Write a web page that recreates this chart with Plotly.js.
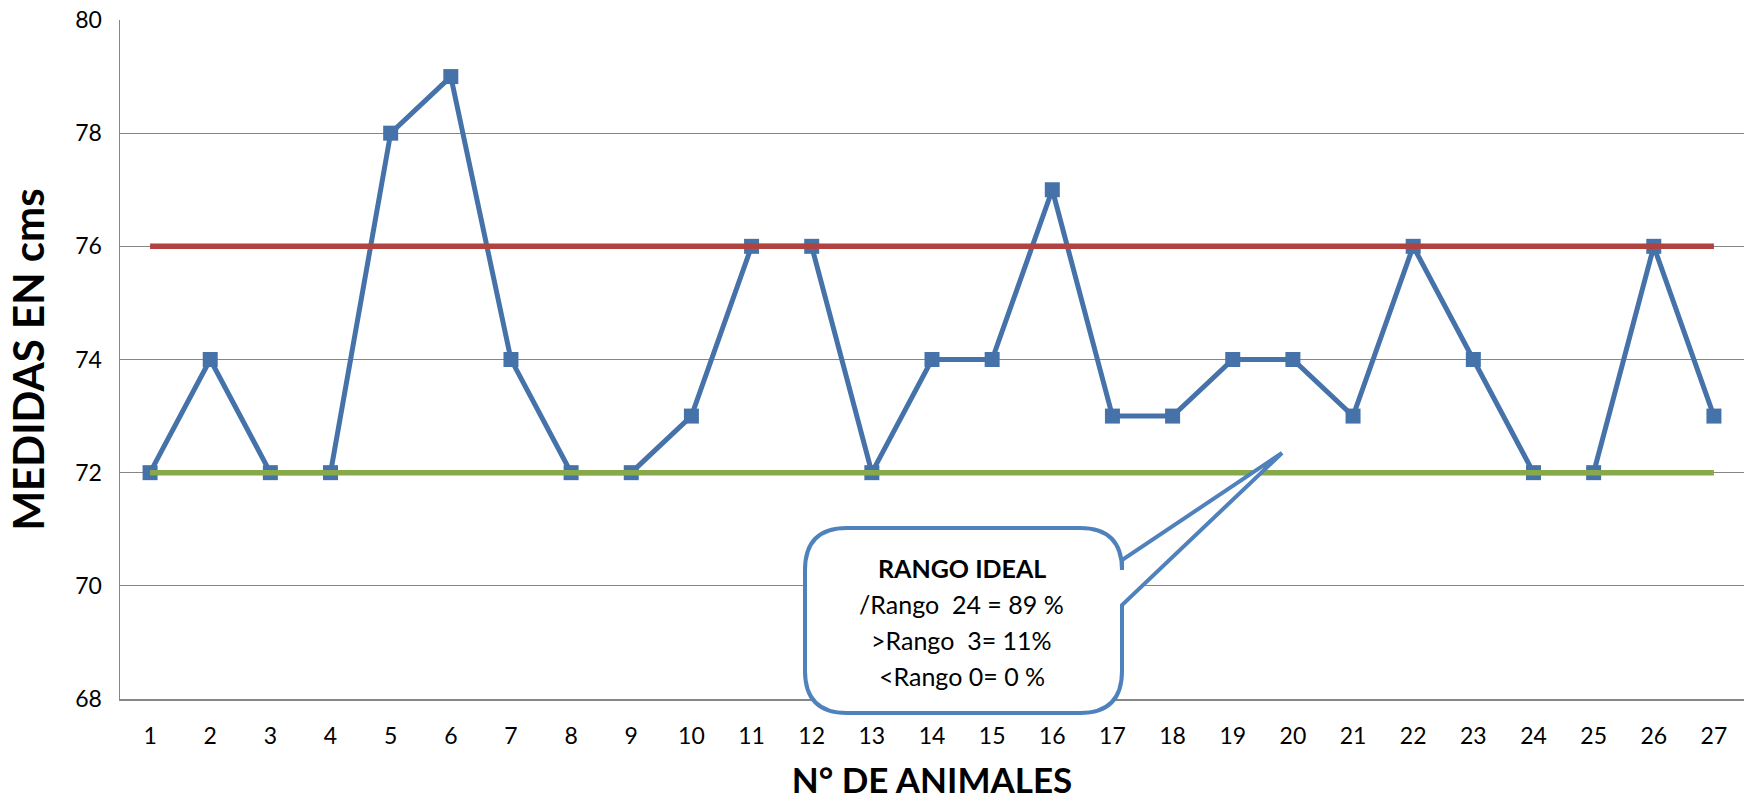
<!DOCTYPE html>
<html>
<head>
<meta charset="utf-8">
<script src="https://cdn.plot.ly/plotly-3.0.1.min.js"></script>
<style>html,body{margin:0;padding:0;background:#fff;}#chart{width:1747px;height:800px;}</style>
</head>
<body>
<div id="chart"></div>
<script>
// ---- data ----
const animales = [1,2,3,4,5,6,7,8,9,10,11,12,13,14,15,16,17,18,19,20,21,22,23,24,25,26,27];
const medidas  = [72,74,72,72,78,79,74,72,72,73,76,76,72,74,74,77,73,73,74,74,73,76,74,72,72,76,73];
const limiteSuperior = [76,76,76,76,76,76,76,76,76,76,76,76,76,76,76,76,76,76,76,76,76,76,76,76,76,76,76];
const limiteInferior = [72,72,72,72,72,72,72,72,72,72,72,72,72,72,72,72,72,72,72,72,72,72,72,72,72,72,72];
const yTicks = [68,70,72,74,76,78,80];
const calloutLines = ["<b>RANGO IDEAL</b>", "/Rango\u00a0 24 = 89 %", ">Rango\u00a0 3= 11%", "<Rango 0= 0 %"];

// ---- layout geometry ----
const W = 1747, H = 800;
const M = {l:120, r:3, t:20, b:101};
const pw = W - M.l - M.r, ph = H - M.t - M.b;
const px = x => (x - M.l) / pw;
const py = y => (H - M.b - y) / ph;
const FONT = "Lato, 'Open Sans', sans-serif";

// callout bubble (pixel geometry -> paper)
const bx0 = 805, bx1 = 1122, by0 = 528, by1 = 713, r = 42;
const tipX = 1282, tipY = 453, attachTop = 560, attachBot = 605;
function P(x, y){ return px(x).toFixed(5) + ',' + py(y).toFixed(5); }
const bubble = 'M' + P(bx0 + r, by0) +
  ' L' + P(bx1 - r, by0) +
  ' Q' + P(bx1, by0) + ' ' + P(bx1, by0 + r) +
  ' L' + P(bx1, attachTop) +
  ' L' + P(tipX, tipY) +
  ' L' + P(bx1, attachBot) +
  ' L' + P(bx1, by1 - r) +
  ' Q' + P(bx1, by1) + ' ' + P(bx1 - r, by1) +
  ' L' + P(bx0 + r, by1) +
  ' Q' + P(bx0, by1) + ' ' + P(bx0, by1 - r) +
  ' L' + P(bx0, by0 + r) +
  ' Q' + P(bx0, by0) + ' ' + P(bx0 + r, by0) + ' Z';

const textY = [568, 604, 640, 676];
const annotations = calloutLines.map((t, i) => ({
  xref:'paper', yref:'paper', x: px(962), y: py(textY[i]),
  text: t, showarrow:false, xanchor:'center', yanchor:'middle',
  font:{family:FONT, size:25, color:'#000'}
}));

const traces = [
  {x: animales, y: medidas, type:'scatter', mode:'lines+markers',
   line:{color:'#4672AA', width:5}, marker:{symbol:'square', size:15, color:'#4672AA'}},
  {x: animales, y: limiteSuperior, type:'scatter', mode:'lines',
   line:{color:'#B0433F', width:5.5}},
  {x: animales, y: limiteInferior, type:'scatter', mode:'lines',
   line:{color:'#88A94A', width:5.5}}
];

const layout = {
  width: W, height: H, margin: M,
  paper_bgcolor:'#fff', plot_bgcolor:'#fff',
  showlegend:false, hovermode:false,
  font:{family:FONT, size:23, color:'#000'},
  xaxis:{
    range:[0.5, 27.5], tickmode:'array', tickvals: animales, ticktext: animales.map(String),
    showgrid:false, zeroline:false, showline:true, linecolor:'#868686', linewidth:1.5,
    ticks:'', ticklabelstandoff:16, tickfont:{family:FONT, size:23, color:'#000'},
    title:{text:'<b>N° DE ANIMALES</b>', font:{family:FONT, size:35, color:'#000'}, standoff:20}
  },
  yaxis:{
    range:[68, 80], tickmode:'array', tickvals: yTicks, ticktext: yTicks.map(String),
    showgrid:true, gridcolor:'#868686', gridwidth:1.3, zeroline:false,
    showline:true, linecolor:'#868686', linewidth:1.5,
    ticks:'', ticklabelstandoff:12, tickfont:{family:FONT, size:23, color:'#000'},
    title:{text:'<b>MEDIDAS EN cms</b>', font:{family:FONT, size:42, color:'#000'}, standoff:17}
  },
  shapes:[{type:'path', xref:'paper', yref:'paper', path: bubble, layer:'above',
           fillcolor:'#fff', line:{color:'#4F81BD', width:4}}],
  annotations: annotations
};

Plotly.newPlot('chart', traces, layout, {displayModeBar:false, staticPlot:true});
</script>
</body>
</html>
